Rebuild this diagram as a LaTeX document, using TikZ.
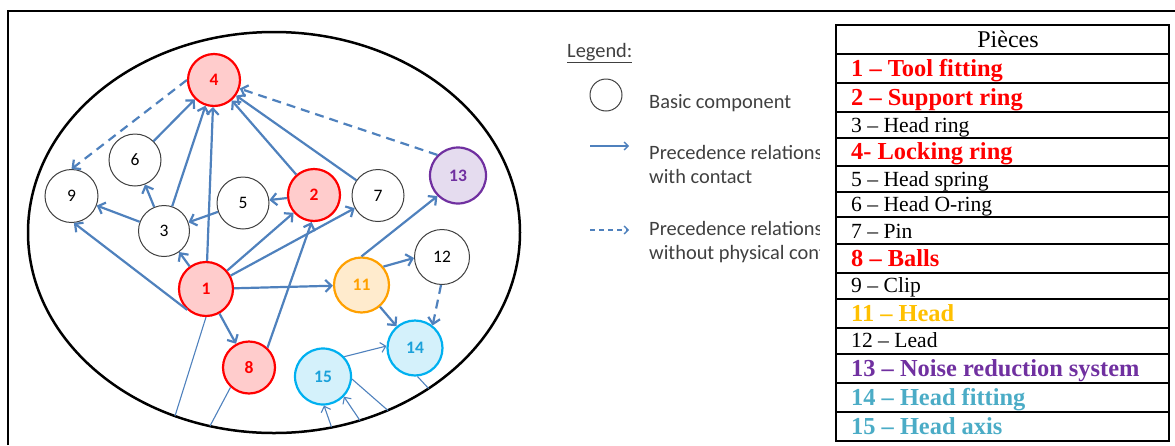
\documentclass[tikz,border=0pt]{standalone}
\usepackage{fontspec}
\setmainfont{Liberation Serif}
\newfontfamily\calib{Carlito}
\usetikzlibrary{arrows.meta}
\definecolor{arr}{HTML}{4F81BD}
\definecolor{pinkc}{HTML}{FFCCCC}
\definecolor{orgc}{HTML}{FFA000}
\definecolor{orgf}{HTML}{FFEBCD}
\definecolor{purc}{HTML}{7030A0}
\definecolor{purf}{HTML}{E5DCEF}
\definecolor{cyanc}{HTML}{00B0F0}
\definecolor{cyanf}{HTML}{D4F1FB}
\definecolor{cyant}{HTML}{1BA1DA}
\definecolor{goldc}{HTML}{FFC000}
\definecolor{tealc}{HTML}{4BACC6}
\definecolor{legtxt}{HTML}{404040}
\begin{document}
\begin{tikzpicture}[x=1pt,y=-1pt,
  comp/.style={circle, draw=legtxt, line width=1pt, fill=white, minimum size=52pt, inner sep=0pt,
    font=\calib\fontsize{17.5}{17.5}\selectfont},
  colnode/.style={comp, line width=2.2pt, font=\calib\fontsize{17.5}{17.5}\selectfont\bfseries},
  redc/.style={colnode, draw=red, fill=pinkc, text=red},
  orgnode/.style={colnode, draw=orgc, fill=orgf, text=orgc},
  purnode/.style={colnode, draw=purc, fill=purf, text=purc},
  cyannode/.style={colnode, draw=cyanc, fill=cyanf, text=cyant},
  prec/.style={draw=arr, line width=2.2pt, -{Straight Barb[length=6pt,width=12pt]}},
  dashprec/.style={prec, dash pattern=on 9pt off 6pt},
  thinl/.style={draw=arr, line width=1.1pt},
  thinarr/.style={thinl, -{Straight Barb[length=5pt,width=10pt]}},
  legt/.style={anchor=base west, inner sep=0pt, text=legtxt, font=\calib\fontsize{20.4}{24}\selectfont},
  bt/.style={anchor=base west, inner sep=0pt, font=\fontsize{24.4}{28}\selectfont\bfseries},
  rt/.style={anchor=base west, inner sep=0pt, font=\fontsize{21.6}{26}\selectfont},
]
\useasboundingbox (0,0) rectangle (1175,445);
% frame
\draw[line width=2.5pt] (8,445) -- (8,11) -- (1175,11);
% ellipse
\draw[line width=2.5pt] (274,232.5) ellipse [x radius=246, y radius=200.5];

% nodes
\node[redc] (n4) at (214,80) {4};
\node[comp] (n6) at (135,160) {6};
\node[comp, minimum size=53pt] (n9) at (71.5,196) {9};
\node[comp] (n5) at (243,203) {5};
\node[redc] (n2) at (314,195) {2};
\node[comp] (n7) at (378,195.5) {7};
\node[purnode, minimum size=56pt] (n13) at (458,175.5) {13};
\node[comp, minimum size=51pt] (n3) at (164,231) {3};
\node[redc, minimum size=54pt] (n1) at (206,289) {1};
\node[orgnode, minimum size=55pt] (n11) at (361.5,285) {11};
\node[comp, minimum size=55pt] (n12) at (442,257) {12};
\node[cyannode, minimum size=55pt] (n14) at (415,348) {14};
\node[redc] (n8) at (249,367.5) {8};
\node[cyannode, minimum size=56pt] (n15) at (323,376.5) {15};

% solid precedence edges
\draw[prec] (n6) -- (n4);
\draw[prec] (n3) -- (n4);
\draw[prec] (n1) -- (n4);
\draw[prec] (n2) -- (n4);
\draw[prec] (n7) -- (n4);
\draw[prec] (n3) -- (n6);
\draw[prec] (n3) -- (n9);
\draw[prec] (n1.228) -- (n9.275);
\draw[prec] (n5) -- (n3);
\draw[prec] (n2) -- (n5);
\draw[prec] (n1) -- (n3);
\draw[prec] (n1) -- (n2);
\draw[prec] (n1) -- (n7);
\draw[prec] (n1) -- (n11);
\draw[prec] (n1) -- (n8);
\draw[prec] (n8.47) -- (n2.265);
\draw[prec] (n11.north) -- (n13.225);
\draw[prec] (n11.40) -- (n12.182);
\draw[prec] (n11) -- (n14);
\draw[thinarr] (n15.43) -- (n14.176);
% dashed
\draw[dashprec] (n4.west) -- (n9.north);
\draw[dashprec] (n13.135) -- (n4);
\draw[dashprec] (n12.268) -- (n14.52);

% lines to the ellipse border
\coordinate (b1) at (175,416);
\coordinate (b2) at (210,426);
\coordinate (b3) at (331.5,427);
\coordinate (b4) at (360,420.5);
\coordinate (b5) at (388,410.5);
\coordinate (b6) at (428.6,388.5);
\draw[thinl] (b1) -- (n1.south);
\draw[thinl] (b2) -- (n8.227);
\draw[thinarr] (b3) -- (n15.272);
\draw[thinarr] (b4) -- (n15.316);
\draw[thinl] (n15.355) -- (b5);
\draw[thinl] (n14.275) -- (b6);

% legend
\begin{scope}
\clip (540,25) rectangle (819,280);
\node[legt] (lg) at (567,57) {\underline{Legend:}};
\node[circle, draw=legtxt, line width=1pt, minimum size=32pt, inner sep=0pt] (lc) at (606,95) {};
\node[legt] (lb) at (649,108) {Basic component};
\coordinate (la1) at (590,146);
\coordinate (la2) at (629,146);
\draw[draw=arr, line width=1.3pt, -{Straight Barb[length=4pt,width=8pt]}] (la1) -- (la2);
\node[legt] (lp1) at (649,159) {Precedence relations};
\node[legt] (lw1) at (649,183) {with contact};
\coordinate (ld1) at (590,230);
\coordinate (ld2) at (629,230);
\draw[draw=arr, line width=1.3pt, dash pattern=on 5pt off 4pt, -{Straight Barb[length=4pt,width=8pt]}] (ld1) -- (ld2);
\node[legt] (lp2) at (649,235) {Precedence relations};
\node[legt] (lw2) at (649,259) {without physical contact};
\end{scope}

% table
\draw[line width=2.5pt] (836,25) rectangle (1169,441);
\foreach \yy in {54,83,112,138,166,192,217,244,273,299,328,354,383,412}
  \draw[line width=2.5pt] (836,\yy) -- (1169,\yy);
\node[anchor=base, inner sep=0pt, font=\fontsize{24}{28}\selectfont] (t0) at (1008,47) {Pièces};
\node[bt, text=red] (t1) at (851,76.5) {1 – Tool fitting};
\node[bt, text=red] (t2) at (851,105.5) {2 – Support ring};
\node[rt] (t3) at (851,132) {3 – Head ring};
\node[bt, text=red] (t4) at (851,159.5) {4- Locking ring};
\node[rt] (t5) at (851,186) {5 – Head spring};
\node[rt] (t6) at (851,211.5) {6 – Head O-ring};
\node[rt] (t7) at (851,238) {7 – Pin};
\node[bt, text=red] (t8) at (851,266.5) {8 – Balls};
\node[rt] (t9) at (851,292.5) {9 – Clip};
\node[bt, text=goldc] (t11) at (851,321) {11 – Head};
\node[rt] (t12) at (851,347.5) {12 – Lead};
\node[bt, text=purc] (t13) at (851,376) {13 – Noise reduction system};
\node[bt, text=tealc] (t14) at (851,405) {14 – Head fitting};
\node[bt, text=tealc] (t15) at (851,434) {15 – Head axis};
\end{tikzpicture}
\end{document}
